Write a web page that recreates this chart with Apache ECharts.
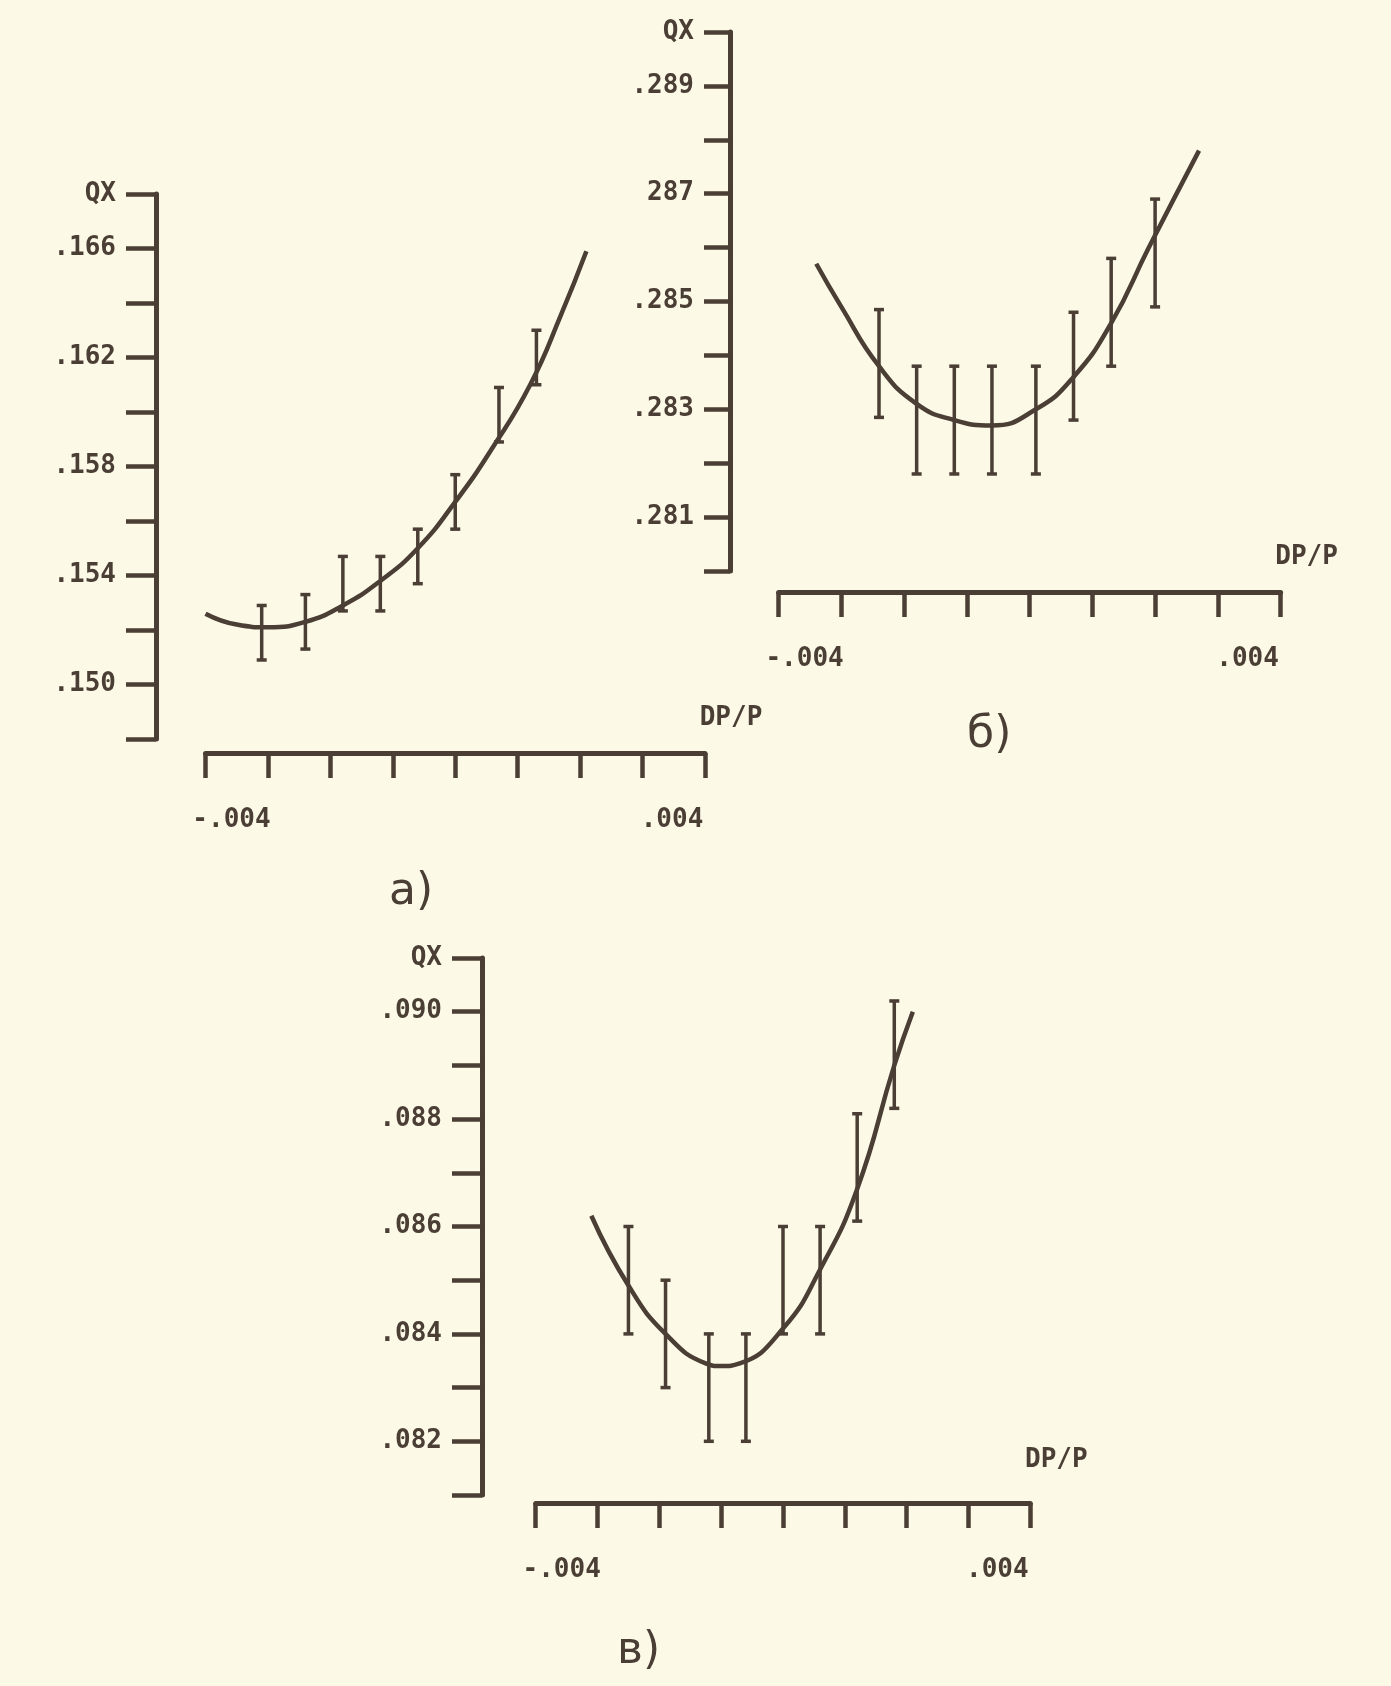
<!DOCTYPE html>
<html>
<head>
<meta charset="utf-8">
<script src="https://cdn.jsdelivr.net/npm/echarts@6/dist/echarts.min.js"></script>
<style>
  html, body { margin: 0; padding: 0; background: #fcf9e7; }
  #chart { width: 1391px; height: 1686px; }
</style>
</head>
<body>
<div id="chart"></div>
<script>
// ---------- data ----------
// chart а)
const barXA   = [-0.0031, -0.0024, -0.0018, -0.0012, -0.0006, 0.0000, 0.0007, 0.0013];
const barQXA  = [0.1519, 0.1523, 0.1537, 0.1537, 0.1547, 0.1567, 0.1599, 0.1620];
const errA    = 0.001;
const curveXA = [-0.0040, -0.0035, -0.0030, -0.0024, -0.0018, -0.0012, -0.0006, 0.0000, 0.0006, 0.0012, 0.0017, 0.0021];
const curveYA = [0.1526, 0.1522, 0.1521, 0.1523, 0.1529, 0.1538, 0.1550, 0.1567, 0.1587, 0.1610, 0.1636, 0.1659];
const yTickValsA   = [0.150, 0.154, 0.158, 0.162, 0.166, 0.168];
const yTickLabelsA = ['.150', '.154', '.158', '.162', '.166', 'QX'];

// chart б)
const barXB   = [-0.0024, -0.0018, -0.0012, -0.0006, 0.0001, 0.0007, 0.0013, 0.0020];
const barQXB  = [0.28385, 0.2828, 0.2828, 0.2828, 0.2828, 0.2838, 0.2848, 0.2859];
const errB    = 0.001;
const curveXB = [-0.0034, -0.0030, -0.0024, -0.0018, -0.0012, -0.0006, 0.0001, 0.0007, 0.0013, 0.0019, 0.0027];
const curveYB = [0.2857, 0.2849, 0.2838, 0.2831, 0.2828, 0.2827, 0.2830, 0.2836, 0.2846, 0.2860, 0.2878];
const yTickValsB   = [0.281, 0.283, 0.285, 0.287, 0.289, 0.290];
const yTickLabelsB = ['.281', '.283', '.285', '287', '.289', 'QX'];

// chart в)
const barXC   = [-0.0025, -0.0019, -0.0012, -0.0006, 0.0000, 0.0006, 0.0012, 0.0018];
const barQXC  = [0.0850, 0.0840, 0.0830, 0.0830, 0.0850, 0.0850, 0.0871, 0.0892];
const errC    = 0.001;
const curveXC = [-0.0031, -0.0025, -0.0019, -0.00125, -0.0010, -0.0007, 0.0000, 0.0006, 0.0012, 0.0018, 0.0021];
const curveYC = [0.0862, 0.0849, 0.0840, 0.08345, 0.0834, 0.08345, 0.0841, 0.0852, 0.0867, 0.0890, 0.0900];
const yTickValsC   = [0.082, 0.084, 0.086, 0.088, 0.090, 0.091];
const yTickLabelsC = ['.082', '.084', '.086', '.088', '.090', 'QX'];

// x axis tick labels (same for all three)
const xTickVals   = [-0.004, 0.004];
const xTickLabels = ['-.004', '.004'];
const xName = 'DP/P';
const panelLabels = ['а)', 'б)', 'в)'];

// ---------- styling ----------
const INK = '#4a3e35';
const FONT = 'DejaVu Sans Mono';
const FS = 26;

function lookup(v, vals, labels) {
  for (let i = 0; i < vals.length; i++) {
    if (Math.abs(v - vals[i]) < 1e-9) return labels[i];
  }
  return '';
}

function makeY(gridIndex, min, max, interval, vals, labels, offset, tickLen) {
  return {
    type: 'value', gridIndex, min, max, interval, offset,
    axisLine: { show: true, onZero: false, lineStyle: { color: INK, width: 5 } },
    axisTick: { show: true, length: tickLen, lineStyle: { color: INK, width: 4.5 } },
    splitLine: { show: false },
    axisLabel: {
      show: true, margin: tickLen + 10, color: INK, fontFamily: FONT,
      fontWeight: 'bold', fontSize: FS, padding: [6, 0, 0, 0],
      formatter: v => lookup(v, vals, labels)
    }
  };
}

function makeX(gridIndex, offset, namePadBottom) {
  return {
    type: 'value', gridIndex, min: -0.004, max: 0.004, interval: 0.001, offset,
    axisLine: { show: true, onZero: false, lineStyle: { color: INK, width: 5 } },
    axisTick: { show: true, length: 25, lineStyle: { color: INK, width: 4.5 } },
    splitLine: { show: false },
    axisLabel: {
      show: true, margin: 54, color: INK, fontFamily: FONT, fontWeight: 'bold', fontSize: FS,
      formatter: v => {
        const t = lookup(v, xTickVals, xTickLabels);
        if (!t) return '';
        return (v < 0 ? '{l|' : '{r|') + t + '}';
      },
      rich: {
        l: { padding: [0, 0, 0, 52], color: INK, fontFamily: FONT, fontWeight: 'bold', fontSize: FS },
        r: { padding: [0, 66, 0, 0], color: INK, fontFamily: FONT, fontWeight: 'bold', fontSize: FS }
      }
    },
    name: xName, nameLocation: 'end', nameGap: 26, nameMoveOverlap: false,
    nameTextStyle: {
      color: INK, fontFamily: FONT, fontWeight: 'bold', fontSize: FS,
      align: 'center', verticalAlign: 'bottom', padding: [0, 0, namePadBottom, 0]
    }
  };
}

function errorData(xs, ys, e) {
  return xs.map((x, i) => [x, ys[i] - e, ys[i] + e]);
}
function curveData(xs, ys) {
  return xs.map((x, i) => [x, ys[i]]);
}

function errorRender(params, api) {
  const x = api.value(0), lo = api.value(1), hi = api.value(2);
  const a = api.coord([x, lo]);
  const b = api.coord([x, hi]);
  const cw = 5;
  const st = { stroke: INK, lineWidth: 3.5 };
  return {
    type: 'group',
    children: [
      { type: 'line', shape: { x1: a[0], y1: a[1], x2: b[0], y2: b[1] }, style: st },
      { type: 'line', shape: { x1: a[0] - cw, y1: a[1], x2: a[0] + cw, y2: a[1] }, style: st },
      { type: 'line', shape: { x1: b[0] - cw, y1: b[1], x2: b[0] + cw, y2: b[1] }, style: st }
    ]
  };
}

function lineSeries(idx, xs, ys) {
  return {
    type: 'line', xAxisIndex: idx, yAxisIndex: idx,
    data: curveData(xs, ys), smooth: 0.5, showSymbol: false, symbol: 'none',
    lineStyle: { color: INK, width: 4.5 }, clip: false, silent: true
  };
}
function barSeries(idx, xs, ys, e) {
  return {
    type: 'custom', xAxisIndex: idx, yAxisIndex: idx,
    data: errorData(xs, ys, e), encode: { x: 0, y: [1, 2] },
    renderItem: errorRender, clip: false, silent: true
  };
}

const chart = echarts.init(document.getElementById('chart'), null, { renderer: 'canvas' });
const titleStyle = { color: INK, fontFamily: 'DejaVu Sans', fontWeight: 'normal', fontSize: 44 };

chart.setOption({
  backgroundColor: '#fcf9e7',
  animation: false,
  title: [
    { text: panelLabels[0], left: 384, top: 866, textStyle: titleStyle },
    { text: panelLabels[1], left: 962, top: 709, textStyle: titleStyle },
    { text: panelLabels[2], left: 612, top: 1625, textStyle: titleStyle }
  ],
  grid: [
    { left: 205.5, top: 194, width: 499.5, height: 545, outerBoundsMode: 'none', containLabel: false },
    { left: 778.6, top: 32, width: 502, height: 539, outerBoundsMode: 'none', containLabel: false },
    { left: 535.7, top: 958, width: 494.6, height: 537, outerBoundsMode: 'none', containLabel: false }
  ],
  xAxis: [
    makeX(0, 14, 22),
    makeX(1, 21, 22),
    makeX(2, 8, 30)
  ],
  yAxis: [
    makeY(0, 0.148, 0.168, 0.002, yTickValsA, yTickLabelsA, 49.5, 30),
    makeY(1, 0.280, 0.290, 0.001, yTickValsB, yTickLabelsB, 48.6, 26),
    makeY(2, 0.081, 0.091, 0.001, yTickValsC, yTickLabelsC, 53.7, 30)
  ],
  series: [
    lineSeries(0, curveXA, curveYA),
    barSeries(0, barXA, barQXA, errA),
    lineSeries(1, curveXB, curveYB),
    barSeries(1, barXB, barQXB, errB),
    lineSeries(2, curveXC, curveYC),
    barSeries(2, barXC, barQXC, errC)
  ]
});
</script>
</body>
</html>
